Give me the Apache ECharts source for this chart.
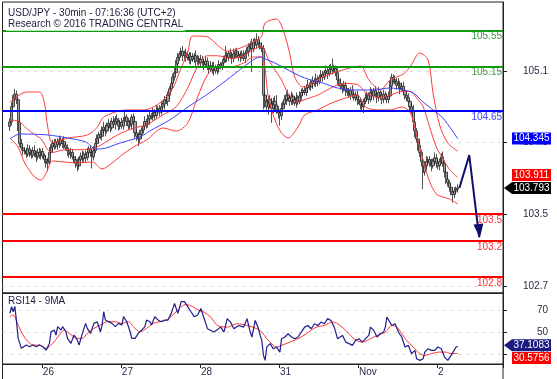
<!DOCTYPE html>
<html><head><meta charset="utf-8">
<script src="https://cdn.jsdelivr.net/npm/echarts@6/dist/echarts.min.js"></script>
<style>html,body{margin:0;padding:0;background:#fff}#c{width:557px;height:379px}</style>
</head><body><div id="c"></div>
<script>
// ---------- data ----------
const SLOTS = 304;            // 30-min slots shown on the time axis
const firstBar = 4;           // slot of the first candle
const firstOpen = 104.48;
const closes = [
104.53,104.70,104.80,104.84,104.78,104.53,104.29,104.24,104.21,104.21,
104.17,104.23,104.19,104.16,104.21,104.18,104.14,104.19,104.16,104.20,
104.15,104.11,104.07,104.09,104.19,104.25,104.29,104.26,104.31,104.28,
104.33,104.29,104.31,104.27,104.24,104.21,104.17,104.19,104.14,104.11,
104.07,104.04,104.11,104.15,104.12,104.17,104.13,104.19,104.23,104.19,
104.14,104.21,104.29,104.35,104.39,104.37,104.44,104.47,104.43,104.485,
104.515,104.465,104.535,104.505,104.565,104.535,104.485,104.525,104.485,104.545,
104.585,104.535,104.485,104.505,104.585,104.535,104.41,104.37,104.34,104.39,
104.44,104.485,104.535,104.505,104.565,104.60,104.585,104.635,104.60,104.66,
104.68,104.64,104.70,104.73,104.78,104.76,104.83,104.90,104.96,105.03,
105.08,105.18,105.25,105.29,105.32,105.27,105.30,105.25,105.28,105.22,
105.26,105.23,105.27,105.21,105.24,105.19,105.23,105.20,105.17,105.21,
105.15,105.12,105.16,105.11,105.14,105.10,105.13,105.17,105.15,105.19,
105.22,105.27,105.25,105.30,105.27,105.24,105.29,105.32,105.27,105.25,
105.29,105.27,105.24,105.30,105.32,105.37,105.40,105.35,105.42,105.39,
105.45,105.41,105.37,105.35,104.83,104.76,104.70,104.78,104.73,104.68,
104.76,104.72,104.66,104.63,104.60,104.68,104.73,104.78,104.83,104.80,
104.76,104.82,104.78,104.74,104.80,104.76,104.82,104.86,104.88,104.86,
104.91,104.94,104.92,104.96,104.99,104.96,105.01,104.98,105.03,105.06,
105.03,105.08,105.10,105.07,105.12,105.15,105.11,105.13,105.08,105.00,
104.96,104.93,104.90,104.94,104.88,104.86,104.83,104.88,104.84,104.80,
104.83,104.78,104.76,104.72,104.70,104.76,104.80,104.83,104.78,104.86,
104.82,104.88,104.84,104.80,104.86,104.83,104.78,104.84,104.81,104.78,
104.82,104.93,105.03,105.00,104.98,104.94,104.96,104.90,104.93,104.88,
104.83,104.80,104.76,104.70,104.66,104.53,104.43,104.34,104.27,104.19,
104.09,103.97,104.04,104.09,104.11,104.07,104.04,104.09,104.13,104.07,
104.04,104.09,104.14,104.07,103.97,103.89,103.85,103.80,103.75,103.72,
103.76,103.78,103.793];
// wick lengths above / below the body, in 0.01 yen
const wickUp = [
4,5,3,6,4,3,4,5,3,4, 3,5,4,3,4,6,3,4,5,3, 4,3,5,4,6,3,4,5,3,4, 5,3,4,6,3,4,3,5,4,3,
4,5,3,4,6,3,4,5,3,4, 3,5,6,4,3,5,4,6,3,4, 5,3,4,6,3,5,4,3,5,4, 6,3,4,5,3,4,6,3,4,5,
3,4,6,3,5,4,3,5,4,6, 3,4,5,3,4,6,4,3,5,4, 6,4,5,3,4,6,3,5,4,3, 5,4,3,6,4,3,5,4,3,6,
4,3,5,4,6,3,4,5,3,4, 5,11,4,3,5,4,6,3,4,5, 3,4,6,3,5,4,3,6,4,5, 7,4,3,5,4,5,6,4,5,7,
4,6,11,5,4,6,3,5,4,6, 4,5,3,4,6,3,5,4,3,5, 4,6,3,4,5,3,6,4,3,5, 4,3,6,4,5,3,9,4,3,5,
4,6,3,5,4,3,5,4,6,3, 4,5,3,4,6,3,5,4,3,6, 4,3,5,4,6,3,4,5,3,4, 5,7,4,3,5,4,6,3,4,5,
3,4,5,3,4,6,4,3,5,4, 3,5,4,6,3,4,5,3,6,4, 5,3,4,6,3,4,5,3,4,5, 4,3,4];
const wickDown = [
5,4,3,4,5,10,4,3,5,4, 4,3,5,4,3,4,6,3,4,5, 3,4,5,9,4,3,5,4,3,6, 4,3,5,4,3,6,4,5,3,4,
5,6,4,3,5,4,6,3,4,5, 13,4,3,5,4,3,5,4,6,3, 4,5,3,4,6,3,5,4,3,4, 3,5,4,3,6,4,7,5,8,4,
5,4,3,5,4,6,3,4,5,3, 4,5,3,4,6,3,5,4,3,5, 4,3,5,4,3,6,4,5,3,4, 5,3,4,6,4,3,5,4,6,3,
4,5,3,4,6,3,4,5,3,4, 4,3,5,4,3,6,4,5,3,4, 5,4,3,5,4,6,4,26,4,3, 4,5,3,4,16,7,6,9,5,16,
5,7,4,6,11,5,4,3,6,4, 5,4,6,3,5,4,3,5,4,3, 4,5,3,4,6,3,4,5,3,4, 5,3,4,6,3,4,5,3,4,6,
3,4,5,3,6,4,3,5,4,3, 4,6,3,5,4,7,3,4,5,3, 4,5,3,6,4,3,5,4,3,4, 4,3,5,4,3,5,4,6,3,4,
5,4,3,6,4,5,7,4,6,5, 6,19,4,5,3,4,6,3,4,5, 4,5,3,4,6,5,4,5,4,9, 4,3,4];
// indicator readings: [slot, value]
const bbUpper = [[4,104.75],[14,104.865],[22,104.865],[25,104.74],[27,104.47],[30,104.30],[39,104.35],[51,104.385],[57,104.47],[61,104.586],[75,104.664],[85,104.664],[95,104.742],[103,104.91],[107,105.088],[112,105.31],[115,105.49],[124,105.48],[130,105.39],[136,105.32],[144,105.356],[154,105.446],[157,105.49],[159,105.635],[166,105.68],[170,105.557],[174,105.29],[177,105.032],[182,104.921],[194,105.032],[206,105.11],[217,105.155],[222,105.0],[229,104.887],[235,105.0],[243,105.066],[247,105.144],[253,105.30],[258,105.222],[261,104.854],[265,104.496],[270,104.295],[276,104.205]];
const bbMiddle = [[4,104.55],[9,104.54],[14,104.46],[19,104.39],[23,104.34],[27,104.22],[30,104.19],[37,104.22],[45,104.22],[54,104.23],[60,104.28],[66,104.35],[72,104.41],[79,104.46],[87,104.50],[97,104.61],[105,104.70],[112,104.91],[118,105.15],[124,105.27],[130,105.27],[138,105.24],[146,105.27],[152,105.34],[157,105.37],[161,105.23],[165,105.11],[169,105.00],[173,104.85],[179,104.75],[183,104.78],[191,104.83],[198,104.90],[206,104.96],[215,104.95],[220,104.86],[228,104.80],[235,104.83],[242,104.87],[247,104.87],[251,104.80],[255,104.70],[259,104.47],[263,104.25],[267,104.12],[271,104.00],[276,103.911]];
const bbLower = [[4,104.35],[9,104.25],[13,104.072],[19,103.916],[23,103.882],[26,103.96],[30,104.094],[37,104.083],[45,104.072],[54,104.083],[60,104.005],[66,104.072],[72,104.161],[79,104.25],[87,104.329],[97,104.463],[105,104.429],[112,104.519],[118,104.809],[124,105.055],[130,105.144],[138,105.144],[146,105.189],[152,105.256],[157,105.256],[161,104.809],[165,104.552],[169,104.407],[173,104.351],[179,104.474],[183,104.608],[191,104.664],[198,104.731],[206,104.787],[215,104.831],[220,104.697],[228,104.664],[235,104.664],[242,104.697],[247,104.641],[251,104.385],[255,104.105],[259,103.86],[263,103.726],[267,103.692],[271,103.67],[276,103.614]];
const movingAvg = [[4,104.34],[10,104.396],[27,104.385],[39,104.351],[50,104.307],[56,104.229],[59,104.229],[71,104.296],[83,104.362],[89,104.43],[101,104.552],[113,104.708],[126,104.865],[138,105.032],[150,105.20],[156,105.256],[159,105.234],[165,105.189],[174,105.10],[183,105.022],[194,104.965],[203,104.91],[214,104.887],[224,104.887],[235,104.91],[243,104.887],[249,104.854],[255,104.753],[261,104.664],[267,104.574],[276,104.345]];
const rsi14 = [[4,67],[5,73],[6,68.5],[7,73.4],[8,59.7],[9,44.3],[11,35.2],[12,33.6],[14,38.2],[16,36.7],[18,38.2],[20,36.7],[22,38.2],[24,36.7],[26,33.6],[28,39.7],[29,50.3],[31,51.8],[32,47.3],[33,54.9],[35,51.8],[36,54.9],[38,50.3],[39,44.3],[41,39.7],[43,47.3],[45,42.7],[46,38.2],[48,48.8],[50,57.9],[51,53.4],[53,48.8],[55,57.9],[57,59.4],[59,50.3],[60,56.4],[61,68.5],[62,60.9],[64,59.4],[66,57.9],[68,54.9],[70,57.9],[72,56.4],[73,64],[75,59.4],[77,50.3],[78,44.3],[80,44.3],[82,48.8],[84,51.8],[86,54.9],[87,60.9],[89,59.4],[90,56.4],[92,64],[94,60.9],[96,59.4],[98,60.9],[100,60.9],[102,67],[104,76],[106,67],[108,77.6],[110,77.6],[112,73.1],[114,68.5],[116,64],[118,65.5],[120,71.5],[121,66.7],[124,53.1],[128,50],[132,54.5],[134,50],[136,62.2],[138,59.1],[140,53.1],[143,56],[146,54.5],[148,62.2],[150,50],[151,45.5],[153,60.6],[155,53.1],[156,47],[157,42.5],[158,28.8],[159,24.3],[160,36.4],[162,39.5],[164,34.9],[166,36.4],[168,31.8],[169,44],[171,45.5],[173,48.5],[175,45.5],[177,44],[179,45.5],[181,50],[183,54.5],[185,56],[187,53],[189,57.6],[191,56],[193,59.1],[195,57.6],[197,62.2],[199,60.6],[201,54.5],[203,44],[206,47],[208,40.9],[210,39.5],[212,37.9],[214,42.5],[216,44],[218,40.9],[220,44],[222,47],[223,54.5],[225,51.5],[227,45.5],[229,48.5],[231,50],[232,54.5],[233,63.6],[234,62.1],[236,56],[238,57.6],[240,50],[242,45.5],[244,36.4],[246,37.9],[248,30.4],[250,33.4],[251,25.8],[253,24.3],[255,25.8],[256,31.8],[258,34.9],[260,33.4],[262,33.4],[264,36.4],[266,34.9],[268,27.3],[270,24.3],[272,28.8],[273,27.3],[275,36.4],[276,37.1083]];
const rsiMA = [[4,64],[6,65.5],[9,56.4],[12,47.3],[15,41.3],[18,38.2],[22,38.2],[26,35.2],[30,39.7],[34,47.3],[37,51.8],[40,48.8],[45,44.3],[48,44.3],[51,48.8],[55,53.4],[59,56.4],[63,59.4],[68,59.4],[72,57.9],[76,59.4],[79,54.9],[83,50.3],[87,53.4],[91,57.9],[95,59.4],[99,60.9],[103,65.5],[108,73.1],[111,75],[115,73.1],[119,69.5],[122,68],[126,63.6],[130,56],[136,54.5],[142,57.6],[148,56],[154,53.1],[157,50],[160,44],[164,37.9],[166,36.4],[169,37.9],[174,40.9],[179,44],[184,48.5],[190,54.5],[195,56],[200,59.1],[203,57.6],[208,51.5],[213,44],[218,40.9],[223,44],[227,47],[232,50],[236,56],[239,54.5],[242,48.5],[245,42.5],[249,36.4],[253,30.4],[256,28.8],[260,30.4],[265,31.8],[269,31.8],[272,30.4],[276,30.5756]];
const resistances = [105.55, 105.15];
const pivots = [104.65];
const supports = [103.5, 103.2, 102.8];
const forecast = [[277,103.793],[283,104.16],[289,103.245]];
const priceTicks = [102.7, 103.5, 104.3, 105.1];
const rsiTicks = [30, 50, 70];
const dayLabels = ['26','27','28','31','Nov','2'];
const dayStarts = [24, 72, 120, 168, 216, 264];
const lastPrice = 103.793, maLast = 104.345, bbMidLast = 103.911, rsiLast = 37.1083, rsiMALast = 30.5756;

// ---------- build ----------
const cats = Array.from({length: SLOTS}, (_, s) => {
  const k = dayStarts.indexOf(s);
  return k >= 0 ? dayLabels[k] : 's' + s;
});
const candles = closes.map((c, k) => {
  const o = k ? closes[k - 1] : firstOpen;
  const h = Math.max(o, c) + wickUp[k] / 100;
  const l = Math.min(o, c) - wickDown[k] / 100;
  return [firstBar + k, o, c, l, h];
});
const isDay = (i) => dayStarts.indexOf(i) >= 0;
const FONT = 'Liberation Sans, Arial, sans-serif';
const TXT = '#2a2a48';
const tagX = SLOTS - 1;
function tag(val, yOffset, color, pointer, text) {
  return {
    coord: [tagX, val], value: val,
    symbol: pointer ? 'path://M0,6L8,0L47,0L47,12L8,12Z' : 'rect',
    symbolSize: pointer ? [47, 12] : [39, 12],
    symbolKeepAspect: false,
    symbolOffset: [pointer ? 25.3 : 29.3, yOffset],
    itemStyle: {color: color},
    label: {show: true, position: 'inside', offset: [pointer ? 4 : 0, 0], color: '#fff', fontSize: 10, fontFamily: FONT, formatter: () => text}
  };
}
const mk = (d) => ({silent: true, animation: false, data: d});
const levelLine = (v, lc, tc) => ({yAxis: v, lineStyle: {color: lc, width: 2, type: 'solid'}, label: {color: tc}});
const dotted = (v) => ({yAxis: v});
const tip = forecast[forecast.length - 1];

const option = {
  animation: false,
  textStyle: {fontFamily: FONT},
  title: [
    {text: 'USD/JPY - 30min - 07:16:36 (UTC+2)\nResearch © 2016 TRADING CENTRAL', left: 6, top: 6, padding: [1, 2],
     backgroundColor: 'rgba(255,255,255,0.75)', z: 20,
     textStyle: {fontSize: 10, fontWeight: 'normal', color: '#1c1c3a', lineHeight: 11.5, fontFamily: FONT}},
    {text: 'RSI14 - 9MA', left: 6, top: 295, padding: [0, 2],
     textStyle: {fontSize: 10, fontWeight: 'normal', color: '#1c1c3a', lineHeight: 12, fontFamily: FONT}}
  ],
  grid: [
    {left: 2.5, right: 54, top: 2, height: 291, show: true, borderColor: '#222', borderWidth: 1, backgroundColor: '#fff'},
    {left: 2.5, right: 54, top: 293, height: 71, show: true, borderColor: '#222', borderWidth: 1}
  ],
  xAxis: [
    {type: 'category', gridIndex: 0, data: cats, boundaryGap: true,
     axisLine: {show: true, lineStyle: {color: '#222'}}, axisTick: {show: false}, axisLabel: {show: false}, splitLine: {show: false}},
    {type: 'category', gridIndex: 1, data: cats, boundaryGap: true,
     axisLine: {show: true, lineStyle: {color: '#222'}},
     axisTick: {show: true, interval: isDay, length: 4, lineStyle: {color: '#222'}},
     axisLabel: {interval: isDay, align: 'left', margin: 3, fontSize: 10, color: TXT}, splitLine: {show: false}}
  ],
  yAxis: [
    {type: 'value', gridIndex: 0, position: 'right', min: 102.62, max: 105.87, scale: true,
     axisLine: {show: true, lineStyle: {color: '#222'}},
     axisTick: {show: true, length: 4, customValues: priceTicks, lineStyle: {color: '#222'}},
     axisLabel: {customValues: priceTicks, align: 'right', margin: 45, fontSize: 10, color: TXT, formatter: (v) => Number(v).toFixed(1)},
     splitLine: {show: false}},
    {type: 'value', gridIndex: 1, position: 'right', min: 21, max: 85.5,
     axisLine: {show: true, lineStyle: {color: '#222'}},
     axisTick: {show: true, length: 4, customValues: rsiTicks, lineStyle: {color: '#222'}},
     axisLabel: {customValues: rsiTicks, align: 'right', margin: 45, fontSize: 10, color: TXT, formatter: (v) => String(Math.round(v))},
     splitLine: {show: false}}
  ],
  series: [
    {name: 'USD/JPY', type: 'candlestick', xAxisIndex: 0, yAxisIndex: 0, data: candles,
     encode: {x: 0, y: [1, 2, 3, 4]}, barWidth: 2.6, z: 2,
     itemStyle: {color: '#a0a0a0', color0: '#a0a0a0', borderColor: '#262626', borderColor0: '#262626', borderWidth: 0.8},
     markPoint: Object.assign(mk([tag(lastPrice, 0, '#000', true, '103.793')]), {z: 30})},
    {name: 'BB upper', type: 'line', xAxisIndex: 0, yAxisIndex: 0, data: bbUpper, symbol: 'none', smooth: 0.3, z: 3,
     lineStyle: {color: '#ff3b3b', width: 1}},
    {name: 'BB middle', type: 'line', xAxisIndex: 0, yAxisIndex: 0, data: bbMiddle, symbol: 'none', smooth: 0.3, z: 3,
     lineStyle: {color: '#ff3b3b', width: 1},
     markPoint: mk([tag(bbMidLast, -2.4, '#ff0000', false, '103.911')])},
    {name: 'BB lower', type: 'line', xAxisIndex: 0, yAxisIndex: 0, data: bbLower, symbol: 'none', smooth: 0.3, z: 3,
     lineStyle: {color: '#ff3b3b', width: 1}},
    {name: 'MA', type: 'line', xAxisIndex: 0, yAxisIndex: 0, data: movingAvg, symbol: 'none', smooth: 0.3, z: 3,
     lineStyle: {color: '#4040ff', width: 1},
     markPoint: mk([tag(maLast, 0, '#0000ff', false, '104.345')]),
     markLine: Object.assign(mk(priceTicks.map(dotted)), {symbol: 'none', z: 1,
       lineStyle: {color: '#c4c4c4', width: 1, type: [2, 6]}, label: {show: false}})},
    {name: 'Forecast', type: 'line', xAxisIndex: 0, yAxisIndex: 0, symbol: 'none', z: 6,
     data: forecast,
     lineStyle: {color: '#10106e', width: 2},
     markPoint: Object.assign(mk([{coord: tip, value: tip[1]}]), {
       symbol: 'triangle', symbolSize: [10, 14], symbolRotate: 186, symbolOffset: [0, -6],
       itemStyle: {color: '#10106e'}, label: {show: false}}),
     markLine: Object.assign(mk([
         ...resistances.map(v => levelLine(v, '#0a9a0a', '#3a9a3a')),
         ...pivots.map(v => levelLine(v, '#0000ff', '#4444ff')),
         ...supports.map(v => levelLine(v, '#ff0000', '#ff3030'))
       ]), {symbol: 'none', z: 5,
       label: {show: true, position: 'insideEndBottom', distance: [1, 1], fontSize: 10, fontFamily: FONT,
               formatter: (p) => String(p.value)}})},
    {name: 'RSI14', type: 'line', xAxisIndex: 1, yAxisIndex: 1, data: rsi14, symbol: 'none', z: 4,
     lineStyle: {color: '#1e1e8c', width: 1.2},
     markPoint: mk([tag(rsiLast, -1, '#1a1a80', true, '37.1083')])},
    {name: '9MA', type: 'line', xAxisIndex: 1, yAxisIndex: 1, data: rsiMA, symbol: 'none', smooth: 0.3, z: 3,
     lineStyle: {color: '#ff3030', width: 1},
     markPoint: mk([tag(rsiMALast, 4.5, '#ff0000', false, '30.5756')]),
     markLine: Object.assign(mk(rsiTicks.map(dotted)), {symbol: 'none', z: 1,
       lineStyle: {color: '#c4c4c4', width: 1, type: [2, 6]}, label: {show: false}})}
  ],
  graphic: [
    {type: 'line', shape: {x1: 2.5, y1: 364, x2: 2.5, y2: 379}, style: {stroke: '#222', lineWidth: 1}},
    {type: 'line', shape: {x1: 503, y1: 364, x2: 503, y2: 379}, style: {stroke: '#222', lineWidth: 1}}
  ]
};
const chart = echarts.init(document.getElementById('c'), null, {renderer: 'canvas'});
chart.setOption(option);
</script></body></html>
